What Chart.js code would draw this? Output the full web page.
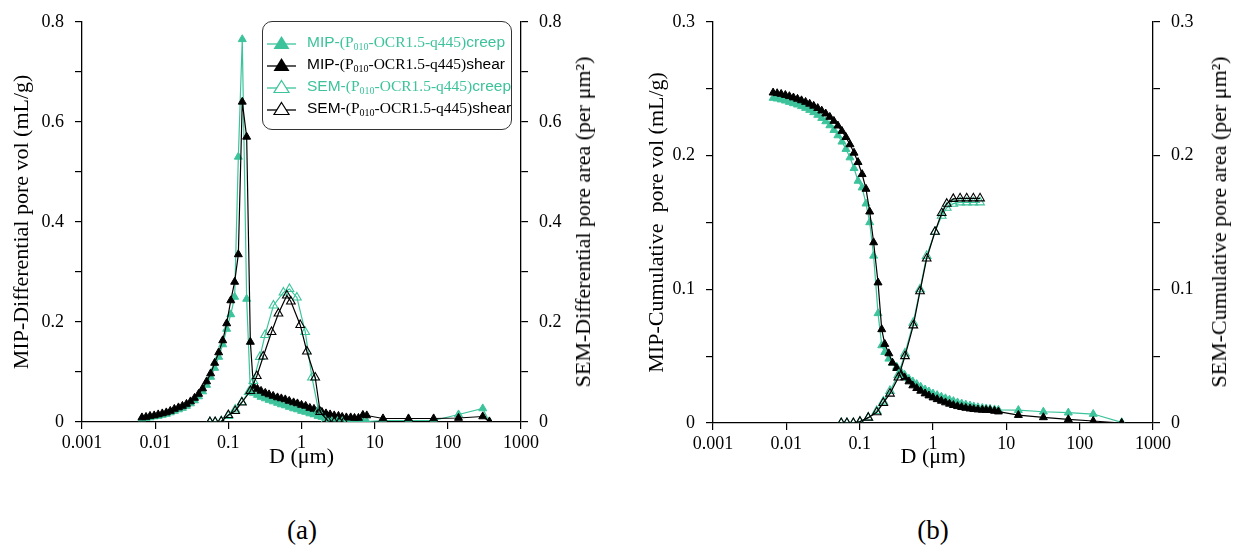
<!DOCTYPE html>
<html>
<head>
<meta charset="utf-8">
<script src="https://cdn.jsdelivr.net/npm/chart.js@4.4.1/dist/chart.umd.min.js"></script>
<style>
  body { margin: 0; background: #fff; width: 1241px; height: 555px; position: relative; overflow: hidden; }
  canvas { position: absolute; top: 0; }
  .legend { position: absolute; left: 262px; top: 21px; width: 250px; height: 109px; border: 1px solid #333; border-radius: 10px; box-sizing: border-box; }
  .row { position: absolute; left: 4px; height: 20px; font-family: "Liberation Serif", serif; font-size: 15.5px; white-space: nowrap; }
  .row svg { position: absolute; left: 0; top: 2px; }
  .row span.t { position: absolute; left: 40px; top: 0; line-height: 20px; }
  .sans { font-family: "Liberation Sans", sans-serif; }
  sub { font-size: 10px; vertical-align: -3px; }
  .cap { position: absolute; font-family: "Liberation Serif", serif; font-size: 27px; transform: translate(-50%, -50%); }
  .rtitle { position: absolute; font-family: "Liberation Serif", serif; font-size: 22px; white-space: nowrap; transform: translate(-50%, -50%) rotate(-90deg); }
</style>
</head>
<body>
<canvas id="chartA" width="600" height="470" style="left:0"></canvas>
<canvas id="chartB" width="601" height="470" style="left:640px"></canvas>

<div class="legend">
  <div class="row" style="top:10px;color:#3cc39b">
    <svg width="32" height="16"><line x1="0" y1="10" x2="29" y2="10" stroke="#3cc39b" stroke-width="1.3"/><polygon points="14.5,2 22.5,15 6.5,15" fill="#3cc39b"/></svg>
    <span class="t"><span class="sans">MIP-</span>(P<sub>010</sub>-OCR1.5-q445)<span class="sans">creep</span></span>
  </div>
  <div class="row" style="top:32px;color:#000">
    <svg width="32" height="16"><line x1="0" y1="10" x2="29" y2="10" stroke="#000" stroke-width="1.3"/><polygon points="14.5,2 22.5,15 6.5,15" fill="#000"/></svg>
    <span class="t"><span class="sans">MIP-</span>(P<sub>010</sub>-OCR1.5-q445)<span class="sans">shear</span></span>
  </div>
  <div class="row" style="top:54px;color:#3cc39b">
    <svg width="32" height="16"><line x1="0" y1="10" x2="29" y2="10" stroke="#3cc39b" stroke-width="1.3"/><polygon points="14.5,2.5 22,14.5 7,14.5" fill="#fff" stroke="#3cc39b" stroke-width="1.2"/></svg>
    <span class="t"><span class="sans">SEM-</span>(P<sub>010</sub>-OCR1.5-q445)<span class="sans">creep</span></span>
  </div>
  <div class="row" style="top:76px;color:#000">
    <svg width="32" height="16"><line x1="0" y1="10" x2="29" y2="10" stroke="#000" stroke-width="1.3"/><polygon points="14.5,2.5 22,14.5 7,14.5" fill="#fff" stroke="#000" stroke-width="1.2"/></svg>
    <span class="t"><span class="sans">SEM-</span>(P<sub>010</sub>-OCR1.5-q445)<span class="sans">shear</span></span>
  </div>
</div>

<div class="rtitle" style="left:583px;top:222px">SEM-Differential pore area (per μm²)</div>
<div class="rtitle" style="left:1219px;top:222px">SEM-Cumulative pore area (per μm²)</div>

<div class="cap" style="left:302px;top:530px">(a)</div>
<div class="cap" style="left:933px;top:530px">(b)</div>

<script>
// pore diameters (um) of the MIP points, panel a and panel b
const diffD = [0.0066, 0.0075, 0.0085, 0.0097, 0.011, 0.0125, 0.0142, 0.0161, 0.0183, 0.0208,
  0.0236, 0.0268, 0.0304, 0.0345, 0.0392, 0.0445, 0.0505, 0.0573, 0.065, 0.0738,
  0.0838, 0.095, 0.108, 0.122, 0.137, 0.155, 0.178, 0.2, 0.22, 0.25,
  0.28, 0.32, 0.36, 0.41, 0.47, 0.53, 0.6, 0.68, 0.78, 0.88,
  1.0, 1.14, 1.3, 1.48, 1.68, 1.9, 2.16, 2.46, 2.8, 3.2,
  3.6, 4.1, 4.7, 5.3, 6.0, 6.9, 7.8, 13, 29, 64, 140, 300, 370];
const cumD = [0.0066, 0.0075, 0.0085, 0.0097, 0.011, 0.0125, 0.0142, 0.0161, 0.0183, 0.0208,
  0.0236, 0.0268, 0.0304, 0.0345, 0.0392, 0.0445, 0.0505, 0.0573, 0.065, 0.0738,
  0.0838, 0.095, 0.108, 0.122, 0.137, 0.155, 0.178, 0.2, 0.22, 0.25,
  0.28, 0.32, 0.36, 0.41, 0.47, 0.53, 0.6, 0.68, 0.78, 0.88,
  1.0, 1.14, 1.3, 1.48, 1.68, 1.9, 2.16, 2.46, 2.8, 3.2,
  3.6, 4.1, 4.7, 5.3, 6.0, 6.9, 7.8, 14.6, 32, 70, 153, 374];

// (a) MIP differential pore volume (mL/g)
const mipDiffCreep = [0.007, 0.008, 0.009, 0.011, 0.012, 0.014, 0.016, 0.019, 0.022, 0.025,
  0.028, 0.032, 0.037, 0.043, 0.051, 0.061, 0.074, 0.09, 0.108, 0.13,
  0.155, 0.186, 0.215, 0.25, 0.53, 0.765, 0.246, 0.062, 0.058, 0.054,
  0.05, 0.047, 0.044, 0.041, 0.038, 0.035, 0.033, 0.03, 0.027, 0.025,
  0.022, 0.02, 0.017, 0.015, 0.012, 0.01, 0.008, 0.006, 0.005, 0.004,
  0.003, 0.003, 0.002, 0.002, 0.002, 0.001, 0.001, 0.003, 0.003, 0.003, 0.015, 0.027, 0.0];
const mipDiffShear = [0.009, 0.010, 0.012, 0.013, 0.015, 0.017, 0.019, 0.022, 0.026, 0.029,
  0.032, 0.036, 0.041, 0.048, 0.056, 0.067, 0.081, 0.097, 0.118, 0.139,
  0.163, 0.197, 0.243, 0.28, 0.335, 0.64, 0.57, 0.16, 0.072, 0.066,
  0.062, 0.058, 0.055, 0.052, 0.049, 0.047, 0.045, 0.042, 0.039, 0.037,
  0.034, 0.032, 0.028, 0.026, 0.023, 0.02, 0.017, 0.015, 0.013, 0.012,
  0.01, 0.009, 0.009, 0.008, 0.008, 0.014, 0.013, 0.007, 0.007, 0.007, 0.008, 0.011, 0.001];

// (b) MIP cumulative pore volume (mL/g)
const mipCumCreep = [0.243, 0.2425, 0.2418, 0.241, 0.24, 0.239, 0.238, 0.2368, 0.2355, 0.234,
  0.2323, 0.2303, 0.228, 0.2255, 0.2225, 0.219, 0.215, 0.2103, 0.2048, 0.1985,
  0.1905, 0.181, 0.176, 0.164, 0.15, 0.125, 0.082, 0.058, 0.053, 0.048,
  0.045, 0.042, 0.039, 0.036, 0.033, 0.031, 0.029, 0.027, 0.025, 0.0235,
  0.022, 0.0208, 0.0196, 0.0184, 0.0173, 0.0163, 0.0153, 0.0145, 0.0137, 0.013,
  0.0123, 0.0117, 0.0112, 0.0108, 0.0105, 0.0101, 0.0098, 0.0096, 0.0084, 0.0077, 0.0067, 0.0005];
const mipCumShear = [0.247, 0.2465, 0.246, 0.2452, 0.2443, 0.2433, 0.2423, 0.2412, 0.24, 0.2386,
  0.2371, 0.2354, 0.2335, 0.2313, 0.2288, 0.2258, 0.2223, 0.2183, 0.2137, 0.2083,
  0.202, 0.195, 0.186, 0.175, 0.158, 0.135, 0.105, 0.07, 0.059, 0.052,
  0.045, 0.041, 0.037, 0.034, 0.031, 0.028, 0.026, 0.024, 0.022, 0.0205,
  0.019, 0.0177, 0.0165, 0.0153, 0.0143, 0.0133, 0.0125, 0.0118, 0.0112, 0.0107,
  0.0103, 0.01, 0.0098, 0.0097, 0.0096, 0.009, 0.0085, 0.0059, 0.0042, 0.0027, 0.0015, 0.0];

// (a) SEM differential pore area (per um2)
const semACreepD = [0.056, 0.066, 0.08, 0.1, 0.124, 0.153, 0.19, 0.22, 0.27, 0.318, 0.414, 0.567, 0.685, 0.865, 1.125, 1.39, 1.71, 2.1, 2.6, 3.1, 3.6];
const semACreep = [0, 0, 0.002, 0.012, 0.025, 0.04, 0.06, 0.082, 0.13, 0.174, 0.233, 0.259, 0.266, 0.249, 0.18, 0.089, 0.023, 0.003, 0, 0, 0];
const semAShearD = [0.056, 0.066, 0.08, 0.1, 0.124, 0.153, 0.2, 0.245, 0.3, 0.39, 0.484, 0.63, 0.716, 0.96, 1.185, 1.54, 1.8, 2.3, 2.8, 3.3, 3.8];
const semAShear = [0, 0, 0.001, 0.014, 0.022, 0.039, 0.062, 0.092, 0.131, 0.18, 0.217, 0.253, 0.241, 0.194, 0.141, 0.089, 0.02, 0.002, 0, 0, 0];

// (b) SEM cumulative pore area (per um2)
const semBD = [0.056, 0.067, 0.082, 0.101, 0.131, 0.171, 0.21, 0.259, 0.337, 0.415, 0.539, 0.665, 0.82, 1.065, 1.314, 1.54, 1.89, 2.34, 2.88, 3.55, 4.38];
const semBCreep = [0, 0, 0, 0.001, 0.004, 0.009, 0.016, 0.024, 0.036, 0.052, 0.075, 0.1, 0.125, 0.143, 0.155, 0.161, 0.164, 0.165, 0.165, 0.165, 0.165];
const semBShear = [0, 0, 0, 0.001, 0.004, 0.008, 0.015, 0.022, 0.034, 0.05, 0.073, 0.0985, 0.123, 0.143, 0.157, 0.164, 0.1676, 0.168, 0.168, 0.168, 0.168];

const xTickValues = [0.001, 0.01, 0.1, 1, 10, 100, 1000];
const xTickLabels = ['0.001', '0.01', '0.1', '1', '10', '100', '1000'];
const yTickLabelsA = ['0', '0.2', '0.4', '0.6', '0.8'];
const yTickLabelsB = ['0', '0.1', '0.2', '0.3'];

const TEAL = '#3cc39b';
const serif = 'Liberation Serif';

const pts = (xs, ys) => xs.map((x, i) => ({ x: x, y: ys[i] }));

function series(label, data, color, filled, axis, order) {
  return {
    label: label,
    data: data,
    yAxisID: axis,
    borderColor: color,
    backgroundColor: filled ? color : 'rgba(0,0,0,0)',
    borderWidth: 1.2,
    pointStyle: 'triangle',
    pointRadius: filled ? 4.6 : 5,
    pointBorderWidth: filled ? 1 : 1.1,
    pointBorderColor: color,
    pointBackgroundColor: filled ? color : 'rgba(0,0,0,0)',
    showLine: true,
    tension: 0,
    order: order
  };
}

const axisLine = { display: true, drawOnChartArea: false, drawTicks: true, tickLength: 7, color: '#000', lineWidth: 1.2 };
const border = { display: true, color: '#000', width: 1.3 };

// title == null -> the title is drawn as html (right axes read bottom-to-top)
function yAxis(pos, max, step, labels, width, title, titlePad) {
  return {
    position: pos,
    min: 0,
    max: max,
    afterFit: s => { s.width = width; },
    ticks: {
      stepSize: step,
      color: '#000',
      padding: 11,
      font: { family: serif, size: 18 },
      callback: v => {
        const k = Math.round(v / step);
        return k % 2 === 0 ? labels[k / 2] : '';
      }
    },
    grid: axisLine,
    border: border,
    title: { display: !!title, text: title || '', color: '#000', font: { family: serif, size: 22 }, padding: titlePad }
  };
}

function xAxis(height) {
  return {
    type: 'logarithmic',
    min: 0.001,
    max: 1000,
    afterFit: s => { s.height = height; },
    afterBuildTicks: s => { s.ticks = xTickValues.map(v => ({ value: v })); },
    ticks: {
      color: '#000',
      padding: 3,
      autoSkip: false,
      maxRotation: 0,
      font: { family: serif, size: 18 },
      callback: (v, i) => xTickLabels[i]
    },
    grid: axisLine,
    border: border,
    title: { display: true, text: 'D (μm)', color: '#000', font: { family: serif, size: 22 }, padding: { top: 0, bottom: 0 } }
  };
}

new Chart(document.getElementById('chartA'), {
  type: 'scatter',
  data: {
    datasets: [
      series('MIP-(P010-OCR1.5-q445)creep', pts(diffD, mipDiffCreep), TEAL, true, 'y', 4),
      series('MIP-(P010-OCR1.5-q445)shear', pts(diffD, mipDiffShear), '#000', true, 'y', 3),
      series('SEM-(P010-OCR1.5-q445)creep', pts(semACreepD, semACreep), TEAL, false, 'y2', 2),
      series('SEM-(P010-OCR1.5-q445)shear', pts(semAShearD, semAShear), '#000', false, 'y2', 1)
    ]
  },
  options: {
    responsive: false,
    animation: false,
    devicePixelRatio: 1,
    layout: { padding: { top: 15, left: 0, right: 0, bottom: 0 } },
    plugins: { legend: { display: false }, tooltip: { enabled: false } },
    scales: {
      x: xAxis(48),
      y: yAxis('left', 0.8, 0.1, yTickLabelsA, 82, 'MIP-Differential pore vol (mL/g)', { top: 9, bottom: 0 }),
      y2: yAxis('right', 0.8, 0.1, yTickLabelsA, 79, null, 0)
    }
  }
});

new Chart(document.getElementById('chartB'), {
  type: 'scatter',
  data: {
    datasets: [
      series('MIP-(P010-OCR1.5-q445)creep', pts(cumD, mipCumCreep), TEAL, true, 'y', 4),
      series('MIP-(P010-OCR1.5-q445)shear', pts(cumD, mipCumShear), '#000', true, 'y', 3),
      series('SEM-(P010-OCR1.5-q445)creep', pts(semBD, semBCreep), TEAL, false, 'y2', 2),
      series('SEM-(P010-OCR1.5-q445)shear', pts(semBD, semBShear), '#000', false, 'y2', 1)
    ]
  },
  options: {
    responsive: false,
    animation: false,
    devicePixelRatio: 1,
    layout: { padding: { top: 18, left: 0, right: 0, bottom: 0 } },
    plugins: { legend: { display: false }, tooltip: { enabled: false } },
    scales: {
      x: xAxis(47),
      y: yAxis('left', 0.3, 0.05, yTickLabelsB, 73, 'MIP-Cumulative  pore vol (mL/g)', { top: 4, bottom: 0 }),
      y2: yAxis('right', 0.3, 0.05, yTickLabelsB, 88, null, 0)
    }
  }
});
</script>
</body>
</html>
